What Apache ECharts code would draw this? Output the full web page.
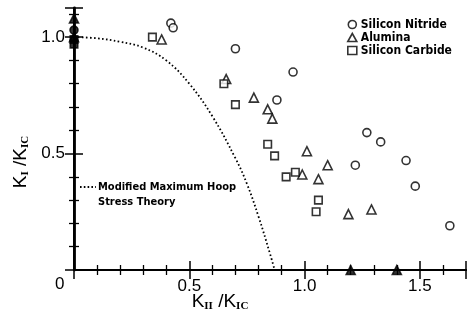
<!DOCTYPE html>
<html>
<head>
<meta charset="utf-8">
<script src="https://cdn.jsdelivr.net/npm/echarts@6/dist/echarts.min.js"></script>
<style>
  html, body { margin: 0; padding: 0; background: #fff; }
  #chart { width: 469px; height: 326px; }
</style>
</head>
<body>
<div id="chart"></div>
<script>
// Mixed-mode fracture data: K_II/K_IC (x) against K_I/K_IC (y)
var nitrideX = [0, 0.42, 0.43, 0.70, 0.95, 0.88, 1.27, 1.33, 1.22, 1.44, 1.48, 1.63];
var nitrideY = [1.03, 1.06, 1.04, 0.95, 0.85, 0.73, 0.59, 0.55, 0.45, 0.47, 0.36, 0.19];

var aluminaX = [0, 0, 0.38, 0.66, 0.78, 0.84, 0.86, 1.01, 1.10, 0.99, 1.06, 1.19, 1.29, 1.20, 1.40];
var aluminaY = [1.08, 1.0, 0.99, 0.82, 0.74, 0.69, 0.65, 0.51, 0.45, 0.41, 0.39, 0.24, 0.26, 0, 0];

var carbideX = [0, 0, 0.34, 0.65, 0.70, 0.84, 0.87, 0.92, 0.96, 1.06, 1.05];
var carbideY = [0.99, 0.97, 1.00, 0.80, 0.71, 0.54, 0.49, 0.40, 0.42, 0.30, 0.25];

// Modified maximum hoop stress criterion curve
var theoryX = [0, 0.1, 0.2, 0.3, 0.4, 0.5, 0.6, 0.7, 0.75, 0.8, 0.85, 0.87];
var theoryY = [1.0, 0.995, 0.98, 0.955, 0.9, 0.8, 0.66, 0.48, 0.37, 0.23, 0.07, 0];

var xTickLabels = { 0.5: '0.5', 1: '1.0', 1.5: '1.5' };
var yTickLabels = { 0.5: '0.5', 1: '1.0' };

var markerStyle = { color: '#fff', borderColor: '#000', borderWidth: 1.6 };
// points that sit on an axis line are drawn solid, merged with the axis
var onAxisStyle = { color: '#000', borderColor: '#000', borderWidth: 1.6 };

function toPoints(xs, ys) {
  return xs.map(function (x, i) {
    var p = { value: [x, ys[i]] };
    if (x === 0 || ys[i] === 0) p.itemStyle = onAxisStyle;
    return p;
  });
}

var chart = echarts.init(document.getElementById('chart'), null, { renderer: 'canvas' });

var labelFont = 'Liberation Sans, Arial, sans-serif';
var legendFont = 'DejaVu Sans Condensed, DejaVu Sans, sans-serif';

function frameAxis(extra) {
  var base = {
    min: 0,
    interval: 0.5,
    axisLine: { show: true, lineStyle: { color: '#000', width: 2 } },
    axisTick: { show: true, inside: true, length: 9, lineStyle: { color: '#000', width: 1.5 } },
    minorTick: { show: true, splitNumber: 5, length: 5, lineStyle: { color: '#000', width: 1.3 } },
    splitLine: { show: false },
    minorSplitLine: { show: false },
    axisLabel: { show: false }
  };
  return Object.assign(base, extra);
}

var subStyle = {
  fontSize: 11, fontFamily: 'Liberation Serif, serif', fontWeight: 'bold', fill: '#000',
  padding: [7, 0, 0, 0], verticalAlign: 'bottom'
};
var kStyle = { fontSize: 19, fontFamily: labelFont, fill: '#000' };

var option = {
  animation: false,
  backgroundColor: '#fff',
  grid: { left: 74, top: 8, width: 396, height: 262, containLabel: false },
  xAxis: [
    frameAxis({
      type: 'value', position: 'bottom', max: 1.7,
      axisLine: { show: true, lineStyle: { color: '#000', width: 2.2 } },
      axisLabel: {
        show: true, margin: 8, color: '#000', fontSize: 17, fontFamily: labelFont,
        formatter: function (v) { return xTickLabels[v] || ''; }
      }
    }),
    frameAxis({ type: 'value', position: 'top', max: 1.7 })
  ],
  yAxis: [
    frameAxis({
      type: 'value', position: 'left', max: 1.125,
      axisLine: { show: true, lineStyle: { color: '#000', width: 2.8 } },
      axisLabel: {
        show: true, margin: 9, color: '#000', fontSize: 17, fontFamily: labelFont,
        formatter: function (v) { return yTickLabels[v] || ''; }
      }
    }),
    frameAxis({ type: 'value', position: 'right', max: 1.125 })
  ],
  legend: {
    orient: 'vertical',
    left: 342,
    top: 13,
    itemWidth: 9,
    itemHeight: 8,
    itemGap: 0,
    textStyle: { color: '#000', fontSize: 12, lineHeight: 13, fontWeight: 'bold', fontFamily: legendFont, padding: [0, 0, 0, -1] },
    data: [
      { name: 'Silicon Nitride', icon: 'circle', itemStyle: markerStyle },
      { name: 'Alumina', icon: 'triangle', itemStyle: markerStyle },
      { name: 'Silicon Carbide', icon: 'rect', itemStyle: markerStyle }
    ]
  },
  graphic: [
    { type: 'text', left: 55, top: 276, style: { text: '0', fontSize: 17, fontFamily: labelFont, fill: '#000' } },
    {
      type: 'text', x: 21, y: 162, rotation: Math.PI / 2, originX: 0, originY: 0,
      style: {
        text: '{k|K}{s|I}{k| /K}{s|IC}',
        fill: '#000', align: 'center', verticalAlign: 'middle',
        rich: { k: kStyle, s: subStyle }
      }
    },
    {
      type: 'text', x: 220, y: 302,
      style: {
        text: '{k|K}{s|II}{k| /K}{s|IC}',
        fill: '#000', align: 'center', verticalAlign: 'middle',
        rich: { k: kStyle, s: subStyle }
      }
    },
    {
      type: 'line', shape: { x1: 80, y1: 187, x2: 96, y2: 187 },
      style: { stroke: '#000', lineWidth: 1.8, lineDash: [1.6, 2.2] }
    },
    {
      type: 'text', left: 98, top: 180,
      style: {
        text: 'Modified Maximum Hoop\nStress Theory',
        fontSize: 11, fontWeight: 'bold', fontFamily: legendFont, fill: '#000', lineHeight: 15
      }
    }
  ],
  series: [
    {
      name: 'Modified Maximum Hoop Stress Theory',
      type: 'line',
      data: theoryX.map(function (x, i) { return [x, theoryY[i]]; }),
      smooth: 0.4,
      showSymbol: false,
      clip: false,
      lineStyle: { color: '#000', width: 1.8, type: [1.6, 2.4] },
      z: 1
    },
    {
      name: 'Silicon Nitride', type: 'scatter', symbol: 'circle', symbolSize: 8,
      data: toPoints(nitrideX, nitrideY), clip: false, itemStyle: markerStyle, z: 3
    },
    {
      name: 'Alumina', type: 'scatter', symbol: 'triangle', symbolSize: 9,
      data: toPoints(aluminaX, aluminaY), clip: false, itemStyle: markerStyle, z: 3
    },
    {
      name: 'Silicon Carbide', type: 'scatter', symbol: 'rect', symbolSize: 7.5,
      data: toPoints(carbideX, carbideY), clip: false, itemStyle: markerStyle, z: 3
    }
  ]
};

chart.setOption(option);
</script>
</body>
</html>
